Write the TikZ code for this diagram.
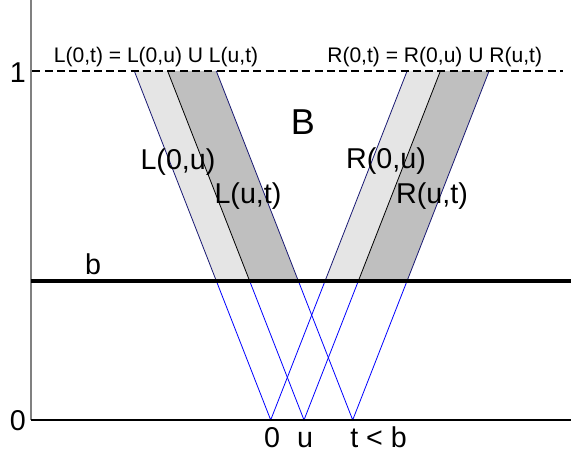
\documentclass[tikz,border=0pt]{standalone}
\usepackage{fontspec}
\setmainfont{Liberation Sans}
\usetikzlibrary{calc}

\definecolor{bandlight}{gray}{0.9}
\definecolor{banddark}{gray}{0.75}
\definecolor{edgeblue}{rgb}{0.1,0.1,0.45}

\begin{document}
\begin{tikzpicture}[
        x=0.75pt, y=261.75pt,
        axisline/.style={line width=1.5pt, gray},
        baseline/.style={line width=1.8pt, black},
        levelline/.style={line width=3pt, black},
        ray/.style={blue, line width=0.6pt},
        bandedge/.style={edgeblue, line width=0.6pt},
        midedge/.style={black, line width=0.6pt},
        toplab/.style={font=\fontsize{15.8}{19}\selectfont, inner sep=0pt, anchor=base},
        lab/.style={font=\fontsize{21.5}{26}\selectfont, inner sep=0pt, anchor=base},
        ticklab/.style={font=\fontsize{21.5}{26}\selectfont, inner sep=0pt},
    ]
    \useasboundingbox (-31,-0.1003) rectangle (540,1.2034);

    % start points and where the rays meet b and 1
    \foreach \n/\x in {zero/239.7, u/273, t/321.7} {
        \coordinate (\n) at (\x,0);
        \coordinate (\n-lb) at (\x-54.3,0.398);
        \coordinate (\n-lt) at (\x-136.4,1);
        \coordinate (\n-rb) at (\x+54.3,0.398);
        \coordinate (\n-rt) at (\x+136.4,1);
    }

    % bands
    \fill[bandlight] (zero-lb) -- (zero-lt) -- (u-lt) -- (u-lb) -- cycle;
    \fill[banddark] (u-lb) -- (u-lt) -- (t-lt) -- (t-lb) -- cycle;
    \fill[bandlight] (zero-rb) -- (zero-rt) -- (u-rt) -- (u-rb) -- cycle;
    \fill[banddark] (u-rb) -- (u-rt) -- (t-rt) -- (t-rb) -- cycle;

    \foreach \n in {zero,u,t}
        \draw[ray] (\n-lb) -- (\n) -- (\n-rb);
    \foreach \n in {zero,t} {
        \draw[bandedge] (\n-lb) -- (\n-lt);
        \draw[bandedge] (\n-rb) -- (\n-rt);
    }
    \draw[midedge] (u-lb) -- (u-lt);
    \draw[midedge] (u-rb) -- (u-rt);

    % axes and levels
    \coordinate (origin) at (0,0);
    \coordinate (axistop) at (0,1.2034);
    \coordinate (axisend) at (540,0);
    \coordinate (bstart) at (0,0.398);
    \coordinate (bend) at (540,0.398);
    \coordinate (onestart) at (1.5,1);
    \coordinate (oneend) at (532,1);
    \draw[axisline] (axistop) -- (origin);
    \draw[baseline] (origin) -- (axisend);
    \draw[levelline] (bstart) -- (bend);
    \draw[line width=1.5pt, dash pattern=on 6pt off 3.2pt] (onestart) -- (oneend);

    % labels
    \node[toplab] (lunion) at (125,1.023) {L(0,t) = L(0,u) U L(u,t)};
    \node[toplab] (runion) at (403.7,1.023) {R(0,t) = R(0,u) U R(u,t)};
    \node[lab, font=\fontsize{27}{32}\selectfont] (blab) at (272,0.8166) {B};
    \node[lab] (l0u) at (147,0.7183) {L(0,u)};
    \node[lab] (lut) at (217,0.619) {L(u,t)};
    \node[lab] (r0u) at (355,0.7192) {R(0,u)};
    \node[lab] (rut) at (401,0.619) {R(u,t)};
    \node[lab] (blevel) at (62,0.418) {b};
    \node[ticklab, anchor=base east] (tickone) at (-5,0.966) {1};
    \node[ticklab, anchor=base east] (tickzero) at (-5,-0.0315) {0};
    \node[ticklab, anchor=base] (zerolab) at (241,-0.0802) {0};
    \node[ticklab, anchor=base] (ulab) at (274,-0.0802) {u};
    \node[ticklab, anchor=base west] (tlab) at (319,-0.0802) {t < b};
\end{tikzpicture}
\end{document}
